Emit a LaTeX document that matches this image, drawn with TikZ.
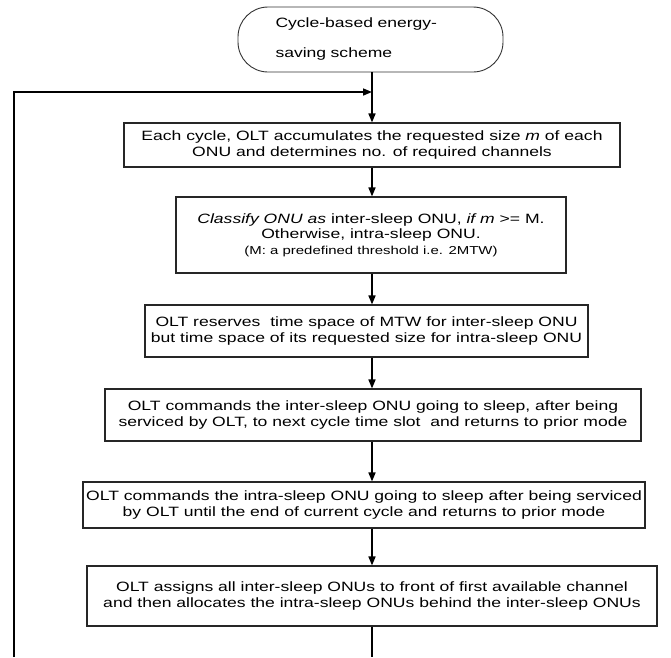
\documentclass[tikz,border=0pt]{standalone}
\usepackage{fontspec}
\setmainfont{Liberation Sans}[FakeStretch=1.3]
\usetikzlibrary{arrows.meta,shadows}
\tikzset{
  box/.style={draw=black!85, line width=1.1pt, fill=white, align=center, inner sep=0pt,
    font={\fontsize{13.5}{15.5}\selectfont},
    drop shadow={shadow xshift=1pt, shadow yshift=-1pt, fill=black!60, opacity=1}},
  term/.style={draw=black!80, line width=0.9pt, rounded corners=30pt, fill=white, inner sep=0pt,
    align=left, text width=190pt, font={\fontsize{13.5}{30}\selectfont}},
  arr/.style={line width=1.6pt, -{Triangle[length=9pt,width=7pt]}},
  ln/.style={line width=1.6pt}
}
\begin{document}
\begin{tikzpicture}[x=1pt,y=-1pt]
\useasboundingbox (0,0) rectangle (671,657);
\coordinate (axis) at (372,0);
\node[term, minimum width=265pt, minimum height=65pt] (start) at (370.5,39.5)
  {Cycle-based energy-\\saving scheme};
\node[box, minimum width=496pt, minimum height=44pt] (b1) at (372,145)
  {Each cycle, OLT accumulates the requested size \textit{m} of each\\ONU and determines no. of required channels};
\node[box, minimum width=390pt, minimum height=76pt] (b2) at (371,235)
  {\textit{Classify ONU as} inter-sleep ONU, \textit{if m} >= M.\\Otherwise, intra-sleep ONU.\\{\fontsize{11.5}{14.5}\selectfont (M: a predefined threshold i.e. 2MTW)}};
\node[box, minimum width=443pt, minimum height=52pt] (b3) at (366.5,331)
  {OLT reserves\ \ time space of MTW for inter-sleep ONU\\but time space of its requested size for intra-sleep ONU};
\node[box, minimum width=536pt, minimum height=52pt] (b4) at (373,415)
  {OLT commands the inter-sleep ONU going to sleep, after being\\serviced by OLT, to next cycle time slot\ \ and returns to prior mode};
\node[box, minimum width=562pt, minimum height=46pt] (b5) at (364,505)
  {OLT commands the intra-sleep ONU going to sleep after being serviced\\by OLT until the end of current cycle and returns to prior mode};
\node[box, minimum width=570pt, minimum height=60pt] (b6) at (372,596)
  {OLT assigns all inter-sleep ONUs to front of first available channel\\and then allocates the intra-sleep ONUs behind the inter-sleep ONUs};
\coordinate (join) at (372,92);
\coordinate (bl) at (14,657);
\coordinate (bc) at (372,657);
\draw[ln] (start.south -| axis) -- (join);
\draw[arr] (join) -- (b1.north -| axis);
\draw[arr] (b1.south -| axis) -- (b2.north -| axis);
\draw[arr] (b2.south -| axis) -- (b3.north -| axis);
\draw[arr] (b3.south -| axis) -- (b4.north -| axis);
\draw[arr] (b4.south -| axis) -- (b5.north -| axis);
\draw[arr] (b5.south -| axis) -- (b6.north -| axis);
\draw[ln] (b6.south -| axis) -- (bc);
\draw[arr] (bl) -- (bl |- join) -- (join);
\end{tikzpicture}
\end{document}
